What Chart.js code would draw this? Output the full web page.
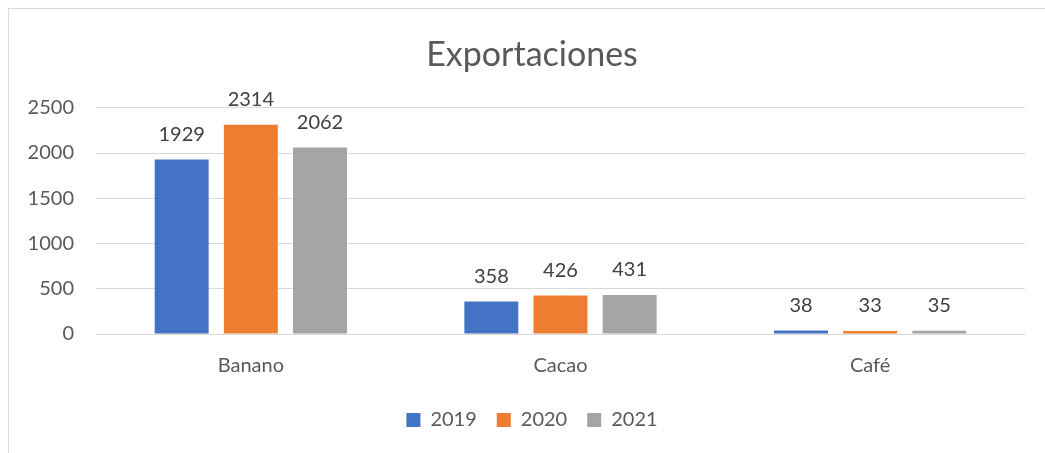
<!DOCTYPE html>
<html lang="es">
<head>
<meta charset="utf-8">
<title>Exportaciones</title>
<script src="https://cdn.jsdelivr.net/npm/chart.js@4.4.7/dist/chart.umd.min.js"></script>
<style>
*{margin:0;padding:0;box-sizing:border-box}
html,body{width:1045px;height:453px;overflow:hidden;background:#fff}
.frame{position:absolute;left:8px;top:8px;width:1100px;height:500px;border:1px solid #d9d9d9}
/* el grafico original sigue un poco mas a la derecha de lo recortado */
.wrap{position:absolute;left:0;top:0;width:1064px;height:453px}
</style>
</head>
<body>
<div class="frame"></div>
<div class="wrap"><canvas id="chart"></canvas></div>
<script>
// datos
const categorias = ['Banano', 'Cacao', 'Café'];
const anios = ['2019', '2020', '2021'];
const v2019 = [1929, 358, 38];
const v2020 = [2314, 426, 33];
const v2021 = [2062, 431, 35];
const colores = ['#4472C4', '#ED7D31', '#A5A5A5'];
const ticksY = [0, 500, 1000, 1500, 2000, 2500];

const FONT = 'Lato, "Open Sans", sans-serif';

// etiquetas de valor encima de cada barra
const etiquetas = {
  id: 'etiquetas',
  afterDatasetsDraw(chart) {
    const ctx = chart.ctx;
    ctx.save();
    ctx.font = '20px ' + FONT;
    ctx.fillStyle = '#404040';
    ctx.textAlign = 'center';
    ctx.textBaseline = 'bottom';
    chart.data.datasets.forEach((ds, i) => {
      chart.getDatasetMeta(i).data.forEach((bar, j) => {
        ctx.fillText(String(ds.data[j]), bar.x, bar.y - 15);
      });
    });
    ctx.restore();
  }
};

const series = [v2019, v2020, v2021];
new Chart(document.getElementById('chart'), {
  type: 'bar',
  data: {
    labels: categorias,
    datasets: anios.map((a, i) => ({
      label: a,
      data: series[i],
      backgroundColor: colores[i],
      borderWidth: 0,
      categoryPercentage: 0.67,
      barPercentage: 0.78
    }))
  },
  options: {
    responsive: true,
    maintainAspectRatio: false,
    animation: false,
    layout: { padding: { left: 0, right: 0, top: 0, bottom: 13 } },
    plugins: {
      title: {
        display: true,
        text: 'Exportaciones',
        color: '#595959',
        font: { family: FONT, size: 34, weight: 'normal' },
        padding: { top: 35, bottom: 32 }
      },
      legend: {
        position: 'bottom',
        labels: {
          color: '#595959',
          font: { family: FONT, size: 20 },
          boxWidth: 14,
          boxHeight: 14,
          padding: 20
        }
      },
      tooltip: { enabled: false }
    },
    scales: {
      x: {
        grid: { display: false },
        border: { display: false },
        ticks: { color: '#595959', font: { family: FONT, size: 20 }, padding: 12 }
      },
      y: {
        min: 0,
        max: 2500,
        afterBuildTicks(scale) { scale.ticks = ticksY.map(v => ({ value: v })); },
        afterFit(scale) { scale.width = 96; },
        grid: { color: '#d9d9d9', lineWidth: 1, drawTicks: false },
        border: { display: false },
        ticks: {
          color: '#595959',
          font: { family: FONT, size: 20 },
          padding: 22,
          callback: v => String(v)
        }
      },
      // eje vacio a la derecha, solo deja el margen del area de trazado
      margen: {
        position: 'right',
        display: true,
        afterFit(scale) { scale.width = 39; },
        grid: { display: false },
        border: { display: false },
        ticks: { display: false }
      }
    }
  },
  plugins: [etiquetas]
});
</script>
</body>
</html>
